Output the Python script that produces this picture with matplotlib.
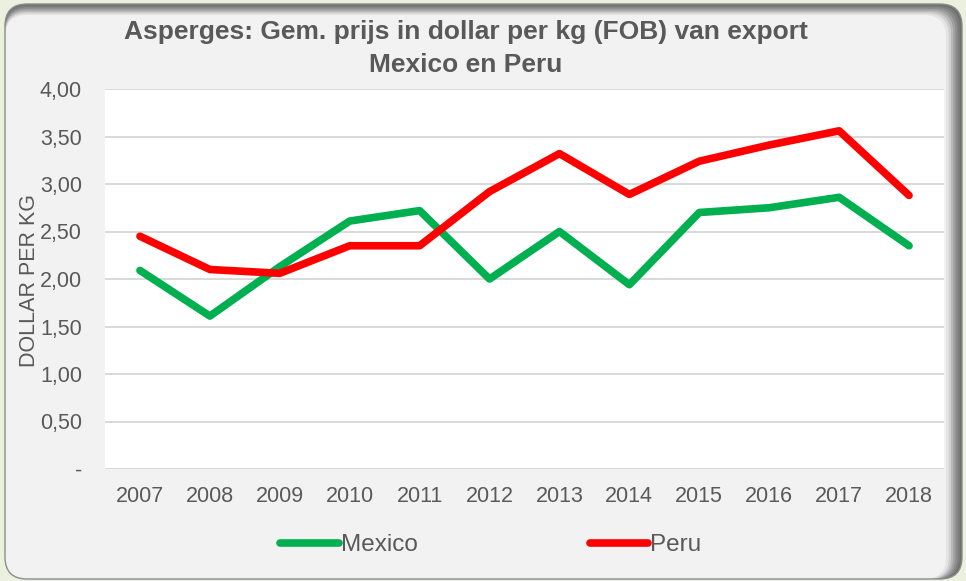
import matplotlib.pyplot as plt
from matplotlib.patches import FancyBboxPatch
from matplotlib.ticker import FixedLocator, FuncFormatter

plt.rcParams["font.family"] = ["Liberation Sans", "DejaVu Sans"]

years = ["2007", "2008", "2009", "2010", "2011", "2012",
         "2013", "2014", "2015", "2016", "2017", "2018"]
mexico = [2.09, 1.61, 2.13, 2.61, 2.72, 2.00, 2.50, 1.94, 2.70, 2.75, 2.86, 2.35]
peru = [2.45, 2.10, 2.06, 2.35, 2.35, 2.92, 3.32, 2.89, 3.24, 3.41, 3.56, 2.88]

TEXT = "#595959"
W, H = 966, 581

fig = plt.figure(figsize=(W / 100, H / 100), dpi=100)
fig.patch.set_facecolor("#EBF1DE")

# background panel in pixel coordinates (y measured from the top)
bg = fig.add_axes([0, 0, 1, 1], zorder=0)
bg.set_xlim(0, W)
bg.set_ylim(H, 0)
bg.axis("off")


def rounded(x0, y0, x1, y1, color, r=22, **kw):
    bg.add_patch(FancyBboxPatch((x0, y0), x1 - x0, y1 - y0,
                                boxstyle=f"round,pad=0,rounding_size={r}",
                                facecolor=color, **kw))


# bevel / shadow along top and right edge
shades = ["#6E6E6E", "#7C7C7C", "#8C8C8C", "#A0A0A0", "#B8B8B8", "#D0D0D0", "#E4E4E4"]
for i, c in enumerate(shades):
    rounded(5, 4 + i * 1.6, 962 - i * 2.2, 579, c, edgecolor="none")
rounded(5, 15, 946, 579, "#F2F2F2", edgecolor="none")
rounded(5, 4, 962, 579, "none", edgecolor="#8C8C8C", linewidth=1.0)

ax = fig.add_axes([105 / W, (H - 469) / H, (944 - 105) / W, (469 - 89) / H], zorder=1)
ax.set_facecolor("white")
x = range(len(years))
ax.plot(x, mexico, color="#00B050", linewidth=5.5, solid_capstyle="round",
        solid_joinstyle="round", label="Mexico", zorder=3)
ax.plot(x, peru, color="#FF0000", linewidth=5.5, solid_capstyle="round",
        solid_joinstyle="round", label="Peru", zorder=3)

ax.set_xlim(-0.5, len(years) - 0.5)
ax.set_ylim(0, 4)
ax.set_xticks(list(x))
ax.set_xticklabels(years)
ax.yaxis.set_major_locator(FixedLocator([i * 0.5 for i in range(9)]))
ax.yaxis.set_major_formatter(
    FuncFormatter(lambda v, _: "-" if v == 0 else f"{v:.2f}".replace(".", ",")))
ax.grid(True, axis="y", color="#D9D9D9", linewidth=1.4)
ax.set_axisbelow(True)
for s in ax.spines.values():
    s.set_visible(False)
ax.tick_params(axis="both", length=0, labelsize=15.5, labelcolor=TEXT)
ax.tick_params(axis="y", pad=16.5)
ax.tick_params(axis="x", pad=12)
ax.set_ylabel("DOLLAR PER KG", fontsize=15.5, color=TEXT)
ax.yaxis.set_label_coords(-0.077, 0.495)

fig.text(466 / W, 1 - 32 / H, "Asperges: Gem. prijs in dollar per kg (FOB) van export",
         ha="center", va="center", fontsize=19, fontweight="bold", color=TEXT)
fig.text(466 / W, 1 - 65 / H, "Mexico en Peru",
         ha="center", va="center", fontsize=19, fontweight="bold", color=TEXT)

leg = ax.legend(loc="center", bbox_to_anchor=(0.46, -0.2), ncol=2, frameon=False,
                fontsize=17.5, handlelength=2.4, handletextpad=0.08,
                columnspacing=7.1)
for t in leg.get_texts():
    t.set_color(TEXT)
for h in leg.get_lines():
    h.set_linewidth(5.5)
    h.set_solid_capstyle("round")

fig.savefig("out.png", dpi=100, facecolor=fig.get_facecolor())
